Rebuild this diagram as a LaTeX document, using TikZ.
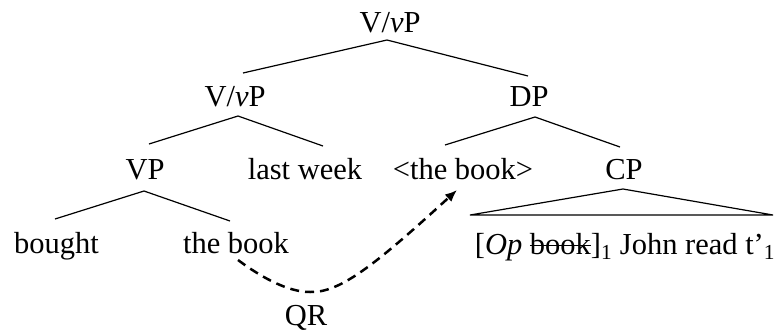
\documentclass[tikz,border=0pt]{standalone}
\usepackage{fontspec}
\setmainfont{Liberation Serif}
\usetikzlibrary{calc,arrows.meta}
\newcommand\mystrike[1]{\setbox0\hbox{#1}\rlap{\rule[0.25em]{\wd0}{1.3pt}}\box0}
\begin{document}
\begin{tikzpicture}[x=1pt,y=-1pt,
  lbl/.style={inner sep=0pt,anchor=base,font=\fontsize{30.5}{36}\selectfont},
  branch/.style={line width=1.2pt},
  qr/.style={line width=2.5pt,dash pattern=on 9pt off 6pt,-{Latex[length=12pt,width=10pt]}}]
\useasboundingbox (0,0) rectangle (782,333);
% nodes
\node[lbl] (top) at (390,32) {V/\textit{v}P};
\node[lbl] (vp2) at (235,106) {V/\textit{v}P};
\node[lbl] (dp) at (529,106) {DP};
\node[lbl] (vp) at (145,179) {VP};
\node[lbl] (lw) at (305,179) {last week};
\node[lbl] (tb2) at (463,179) {<the book>};
\node[lbl] (cp) at (624,179) {CP};
\node[lbl] (bought) at (56.5,253) {bought};
\node[lbl] (tb) at (236,253) {the book};
\node[lbl] (cpc) at (625,254) {[\textit{Op} \mystrike{book}]\textsubscript{1} John read t’\textsubscript{1}};
\node[lbl] (qrl) at (306,325) {QR};
% branches
\draw[branch] ($(vp2.base)+(8,-33)$) -- ($(top.base)+(-3,8)$) -- ($(dp.base)+(-1,-30)$);
\draw[branch] ($(vp.base)+(4,-35)$) -- ($(vp2.base)+(3,10)$) -- ($(lw.base)+(18,-33)$);
\draw[branch] ($(tb2.base)+(-18,-34)$) -- ($(dp.base)+(6,11)$) -- ($(cp.base)+(-4,-32)$);
\draw[branch] ($(bought.base)+(-1.5,-34)$) -- ($(vp.base)+(-1,12)$) -- ($(tb.base)+(-6,-32)$);
\draw[branch] ($(cp.base)+(-1,10)$) -- ($(cpc.base)+(-155,-39)$) -- ($(cpc.base)+(148,-39)$) -- cycle;
% QR movement
\coordinate (qrlow) at ($(qrl.base)+(4,-33)$);
\draw[qr] ($(tb.base)+(2,7)$) .. controls (265,280) and (290,292) .. (qrlow)
  .. controls (340,293) and (375,265) .. ($(tb2.base)+(-6,11)$);
\end{tikzpicture}
\end{document}
